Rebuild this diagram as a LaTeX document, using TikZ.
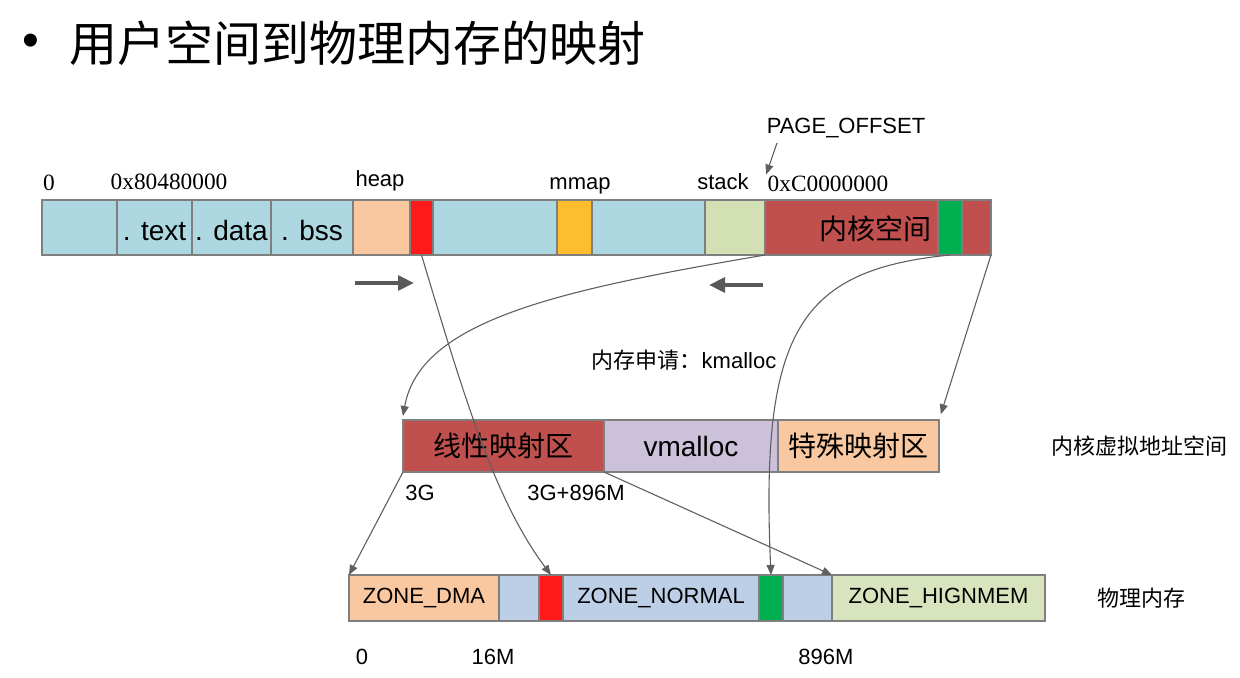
\documentclass[tikz,border=0pt]{standalone}
\usepackage{fontspec}
\setmainfont{Liberation Sans}
\newfontfamily\cjk{Noto Sans CJK SC}
\newfontfamily\hexfont{Liberation Serif}
\usetikzlibrary{arrows.meta,positioning}
\newlength\pxl
\setlength\pxl{0.75pt}
\definecolor{segline}{HTML}{7F7F7F}
\definecolor{connc}{HTML}{5F5F5F}
\definecolor{fatc}{HTML}{595959}
\definecolor{segblue}{HTML}{ADD8E2}
\definecolor{segpeach}{HTML}{FAC8A0}
\definecolor{segred}{HTML}{FF1A1A}
\definecolor{segorange}{HTML}{FDBD2C}
\definecolor{seglgreen}{HTML}{D3E0B3}
\definecolor{kernred}{HTML}{C0504D}
\definecolor{seggreen}{HTML}{00B050}
\definecolor{seglav}{HTML}{CCC1DA}
\definecolor{physblue}{HTML}{BDCFE6}
\definecolor{physgreen}{HTML}{D7E4BD}
\begin{document}
\begin{tikzpicture}[x=0.75pt,y=-0.75pt,
  seg/.style={draw=segline,line width=1.4\pxl,anchor=west,inner sep=0pt,outer sep=0pt},
  topseg/.style={seg,minimum height=55\pxl},
  midseg/.style={seg,minimum height=52\pxl},
  botseg/.style={seg,minimum height=46\pxl},
  lbl/.style={font=\fontsize{16.5}{18}\selectfont,inner sep=1pt},
  big/.style={font=\fontsize{21}{24}\selectfont},
  sect/.style={big,text height=19pt,text depth=0pt},
  hex/.style={font=\hexfont\fontsize{17.5}{20}\selectfont,inner sep=1pt},
  conn/.style={draw=connc,line width=1.1\pxl,-{Triangle[length=7.5pt,width=6pt]}},
  fat/.style={draw=fatc,line width=4\pxl,-{Triangle[length=12pt,width=11pt]}}]
\useasboundingbox (0,0) rectangle (1240,678);
% title
\node[font=\fontsize{36}{40}\selectfont] (bul) at (31,45) {•};
\node[font=\cjk\fontsize{36}{40}\selectfont,anchor=west,inner sep=0pt] (title) at (69,43) {用户空间到物理内存的映射};
% user / kernel virtual space
\node[topseg,fill=segblue,minimum width=75\pxl] (u0) at (42,227.5) {};
\node[topseg,fill=segblue,minimum width=75\pxl,right=0pt of u0,sect] (utext) {. text};
\node[topseg,fill=segblue,minimum width=79\pxl,right=0pt of utext,sect] (udata) {. data};
\node[topseg,fill=segblue,minimum width=82\pxl,right=0pt of udata,sect] (ubss) {. bss};
\node[topseg,fill=segpeach,minimum width=57\pxl,right=0pt of ubss] (heap) {};
\node[topseg,fill=segred,minimum width=23\pxl,right=0pt of heap] (brk) {};
\node[topseg,fill=segblue,minimum width=124\pxl,right=0pt of brk] (ugap1) {};
\node[topseg,fill=segorange,minimum width=35\pxl,right=0pt of ugap1] (mmap) {};
\node[topseg,fill=segblue,minimum width=113\pxl,right=0pt of mmap] (ugap2) {};
\node[topseg,fill=seglgreen,minimum width=60\pxl,right=0pt of ugap2] (stack) {};
\node[topseg,fill=kernred,minimum width=173\pxl,right=0pt of stack] (kern) {};
\node[topseg,fill=seggreen,minimum width=24\pxl,right=0pt of kern] (kgreen) {};
\node[topseg,fill=kernred,minimum width=29\pxl,right=0pt of kgreen] (kend) {};
\node[big,font=\cjk\fontsize{21}{24}\selectfont,anchor=east] (kernlbl) at (936,229) {内核空间};
\node[hex] (zero) at (49,183) {0};
\node[hex] (textaddr) at (169,182) {0x80480000};
\node[lbl] (heaplbl) at (380,181) {heap};
\node[lbl] (mmaplbl) at (580,186) {mmap};
\node[lbl] (stacklbl) at (723,182) {stack};
\node[hex] (kaddr) at (828,184) {0xC0000000};
\node[lbl] (poff) at (846,128) {PAGE\_OFFSET};
\coordinate (poffa) at (777,143);
\draw[conn] (poffa) -- (kaddr.north west);
\coordinate (hgrowa) at (355,283);
\coordinate (hgrowb) at (414,283);
\coordinate (sgrowa) at (763,285);
\coordinate (sgrowb) at (709,285);
\draw[fat] (hgrowa) -- (hgrowb);
\draw[fat] (sgrowa) -- (sgrowb);
% kernel virtual space
\node[midseg,fill=kernred,minimum width=201\pxl,font=\cjk\fontsize{21}{24}\selectfont] (lin) at (403,446) {线性映射区};
\node[midseg,fill=seglav,minimum width=174\pxl,right=0pt of lin,big] (vmal) {vmalloc};
\node[midseg,fill=segpeach,minimum width=161\pxl,right=0pt of vmal,font=\cjk\fontsize{21}{24}\selectfont] (spec) {特殊映射区};
\node[lbl,font=\cjk\fontsize{16.5}{18}\selectfont] (kvlbl) at (1139,446) {内核虚拟地址空间};
\node[lbl] (kmal) at (684,360) {{\cjk 内存申请：}kmalloc};
\node[lbl] (g3) at (420,493) {3G};
\node[lbl] (g3b) at (576,493) {3G+896M};
% physical memory
\node[botseg,fill=segpeach,minimum width=150\pxl,lbl] (dma) at (349,598) {ZONE\_DMA};
\node[botseg,fill=physblue,minimum width=40\pxl,right=0pt of dma] (pb1) {};
\node[botseg,fill=segred,minimum width=24\pxl,right=0pt of pb1] (pred) {};
\node[botseg,fill=physblue,minimum width=196\pxl,right=0pt of pred,lbl] (normal) {ZONE\_NORMAL};
\node[botseg,fill=seggreen,minimum width=24\pxl,right=0pt of normal] (pgreen) {};
\node[botseg,fill=physblue,minimum width=49\pxl,right=0pt of pgreen] (pb2) {};
\node[botseg,fill=physgreen,minimum width=213\pxl,right=0pt of pb2,lbl] (high) {ZONE\_HIGNMEM};
\node[lbl,font=\cjk\fontsize{16.5}{18}\selectfont] (physlbl) at (1141,598) {物理内存};
\node[lbl] (m0) at (362,657) {0};
\node[lbl] (m16) at (493,657) {16M};
\node[lbl] (m896) at (826,657) {896M};
% mappings
\draw[conn] (kern.south west) .. controls (560,290) and (420,320) .. ([yshift=3pt]lin.north west);
\draw[conn] (kgreen.south) .. controls (800,270) and (760,330) .. (pgreen.north);
\draw[conn,shorten >=4.5pt] (kend.south east) -- (spec.north east);
\draw[conn] (brk.south) .. controls (465,400) and (495,500) .. (pred.north);
\draw[conn] (lin.south west) -- (dma.north west);
\draw[conn] (lin.south east) -- (high.north west);
\end{tikzpicture}
\end{document}
